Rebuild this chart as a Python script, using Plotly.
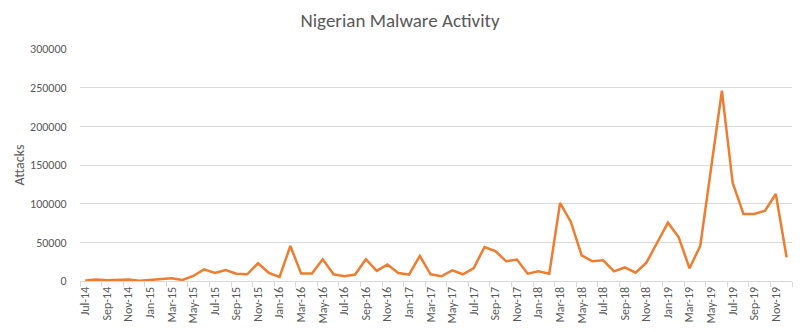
import plotly.graph_objects as go

# Monthly attack counts, Jul 2014 - Dec 2019
years = list(range(2014, 2020))
month_names = ["Jan", "Feb", "Mar", "Apr", "May", "Jun",
               "Jul", "Aug", "Sep", "Oct", "Nov", "Dec"]
months = [f"{m}-{str(y)[2:]}" for y in years for m in month_names][6:]

attacks = [
    500, 1800, 900, 900, 1800, 300, 1300, 2600, 3500, 1300,
    6500, 15100, 10400, 14200, 9500, 8700, 22900, 10600, 5200, 45300,
    9600, 9600, 28100, 8700, 6100, 8300, 28100, 13000, 21200, 10400,
    8300, 32400, 8700, 6100, 13800, 8700, 16800, 44000, 38800, 25500,
    27700, 9500, 12500, 9500, 100900, 76300, 33200, 25500, 26800, 12500,
    17500, 10700, 23700, 49500, 75400, 56500, 16400, 45600, 145000, 246000,
    127000, 86600, 86600, 90900, 112500, 30600,
]

y_ticks = [0, 50000, 100000, 150000, 200000, 250000, 300000]

FONT = "Carlito, Lato, sans-serif"
TEXT = "#595959"
GRID = "#d9d9d9"

fig = go.Figure(
    go.Scatter(
        x=months,
        y=attacks,
        mode="lines",
        line=dict(color="#ED7D31", width=2.5),
        hoverinfo="x+y",
    )
)

fig.update_layout(
    width=800,
    height=332,
    margin=dict(l=80, r=8, t=49, b=51),
    paper_bgcolor="white",
    plot_bgcolor="white",
    showlegend=False,
    font=dict(family=FONT, color=TEXT),
    title=dict(
        text="Nigerian Malware Activity",
        x=0.5,
        xanchor="center",
        y=0.94,
        yanchor="middle",
        font=dict(size=19, color=TEXT, family=FONT),
    ),
)

fig.update_xaxes(
    type="category",
    range=[-0.5, len(months) - 0.5],
    tickmode="linear",
    tick0=0,
    dtick=2,
    tickson="boundaries",
    tickangle=-90,
    tickfont=dict(size=12, color=TEXT),
    ticks="outside",
    ticklen=5,
    tickcolor=GRID,
    showgrid=False,
    showline=True,
    linecolor=GRID,
    linewidth=1,
    zeroline=False,
)

fig.update_yaxes(
    range=[0, 300000],
    tickmode="array",
    tickvals=y_ticks,
    ticktext=[str(v) for v in y_ticks],
    tickfont=dict(size=12, color=TEXT),
    ticks="outside",
    ticklen=10,
    tickcolor="rgba(0,0,0,0)",
    showgrid=True,
    gridcolor=GRID,
    gridwidth=1,
    zeroline=False,
    showline=False,
    title=dict(text="Attacks", font=dict(size=14, color=TEXT), standoff=2),
)

fig.write_html("out.html")
